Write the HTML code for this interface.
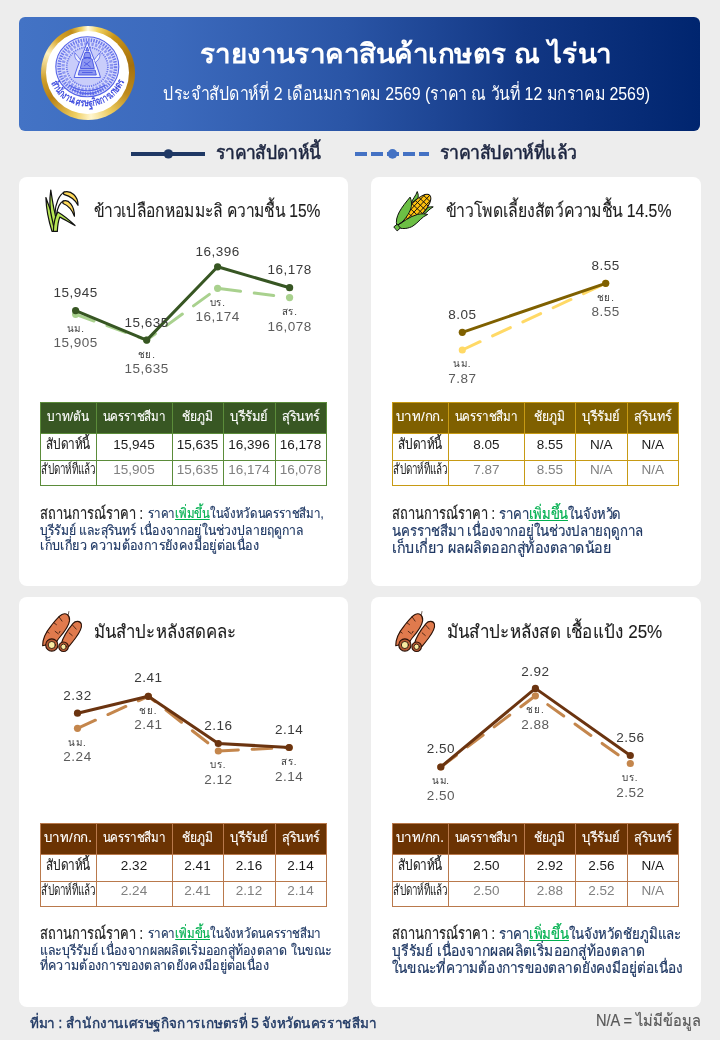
<!DOCTYPE html>
<html lang="th">
<head>
<meta charset="utf-8">
<title>รายงานราคาสินค้าเกษตร ณ ไร่นา</title>
<style>
html,body{margin:0;padding:0;}
body{width:720px;height:1040px;background:#ededed;font-family:"Liberation Sans",sans-serif;position:relative;overflow:hidden;}
#page{position:absolute;left:0;top:0;width:720px;height:1040px;will-change:transform;}
.t{position:absolute;white-space:nowrap;margin:0;padding:0;font-weight:normal;-webkit-text-stroke:.2px;clip-path:inset(-12px 0);}
.hdr{position:absolute;left:19px;top:17px;width:681px;height:114px;border-radius:6px;background:linear-gradient(90deg,#4373c5 0%,#3c6abd 22%,#2a55a6 48%,#123784 74%,#00256f 100%);}
.card{position:absolute;width:330px;height:409px;background:#fff;border-radius:8px;}
svg{position:absolute;left:0;top:0;overflow:visible;}
svg text{font-family:"Liberation Sans",sans-serif;}
svg text.v{font-size:13.5px;letter-spacing:.5px;text-anchor:middle;}
svg text.k{font-size:9.8px;letter-spacing:.8px;text-anchor:middle;fill:#3a3a3a;}
table{position:absolute;border-collapse:collapse;table-layout:fixed;font-size:13px;}
td,th{padding:0;text-align:center;vertical-align:baseline;white-space:nowrap;overflow:hidden;font-weight:normal;line-height:16px;}
th{color:#fff;height:24px;font-size:13.7px;padding-top:5.7px;}
tr.r1 td{height:24px;color:#1a1a1a;font-size:13.5px;padding-top:2.6px;}
tr.r2 td{height:24px;color:#808080;font-size:13.5px;padding-top:0;}
tr.r1 td.h,tr.r2 td.h{font-size:14.4px;color:#222;}
tr.r2 td.h span{-webkit-text-stroke:0;}
.lab{color:#222;font-size:16.3px;}
.t u{color:#00b050;}
td span,th span{display:inline-block;margin:0 -14px;-webkit-text-stroke:.15px;}
</style>
</head>
<body>
<div id="page">

<div class="hdr"></div>
<div style="position:absolute;left:40.5px;top:25.5px;width:94px;height:94px;border-radius:50%;background:conic-gradient(from 0deg,#fffbe6 0deg,#f3d565 12deg,#c99418 36deg,#a5700c 80deg,#bd8a1c 118deg,#eccb5e 150deg,#fff6cf 176deg,#f0cf62 196deg,#b98214 236deg,#cf9f2a 262deg,#fff3c2 296deg,#d7a62c 318deg,#c18c18 338deg,#f1d468 352deg,#fffbe6 360deg);"></div>
<div style="position:absolute;left:46px;top:31px;width:83px;height:83px;border-radius:50%;background:#fff;"></div>
<svg width="720" height="140" viewBox="0 0 720 140">
<g fill="none" stroke="#5563e8">
<ellipse cx="87.300" cy="66.800" rx="31.500" ry="30" fill="#d9dcfc" stroke-width="1.100"/>
<ellipse cx="87.300" cy="66.800" rx="28.200" ry="26.800" stroke="#6e7aec" stroke-width="3.600" stroke-dasharray="1.5 1.100"/>
<ellipse cx="87.300" cy="66.800" rx="24.200" ry="23" stroke="#8f98f1" stroke-width="3.200" stroke-dasharray="2.400 1.300"/>
<ellipse cx="87.300" cy="66.800" rx="20.600" ry="19.600" fill="#c9cdfa" stroke="#6e7aec" stroke-width="1.800" stroke-dasharray="1.200 1"/>
<path d="M87.300 41.500 C89.500 49 97.500 66 100.500 77.500 L74.100 77.500 C77.100 66 85.100 49 87.300 41.500 Z" fill="#eef0fe" stroke-width="1"/>
<path d="M79 62 c-3.500 -2 -5 -6 -4 -9 c2 2 4 5 5.500 7 M95.600 62 c3.500 -2 5 -6 4 -9 c-2 2 -4 5 -5.500 7" fill="#eef0fe" stroke-width=".8"/>
<path d="M87.300 47 l1.500 4 l-3 0 z M85 52.500 h4.600 l1.400 5 h-7.400 z M82.500 59 q4.800 -2.400 9.600 0 l2.200 9.500 h-14 z M79.500 70 h15.600 l1.200 5 h-18 z" fill="#8d97f1" stroke="#4452e2" stroke-width=".9"/>
<path d="M84 62 l6.600 5 M84 66 l6.600 -5 M82 72.500 h10.600" stroke="#4452e2" stroke-width=".8"/>
<path d="M69 85 q18.300 11.500 36.600 0" stroke-width="1.200"/>
<path d="M72 89.500 q15.300 8 30.600 0" stroke-width="1"/>
<path d="M80 93.800 h14.600" stroke-width="1"/>
</g>
<path id="arc" d="M50.900 82.500 A39.600 39.600 0 0 0 123.700 82.500" fill="none"/>
<text font-size="10.500" font-weight="bold" fill="#4350e0"><textPath href="#arc" textLength="94" lengthAdjust="spacingAndGlyphs">สำนักงานเศรษฐกิจการเกษตร</textPath></text>
</svg>

<h1 class="t" id="title" style="top:34.64px;font-size:27px;line-height:38px;color:#fff;font-weight:bold;width:401.5px;left:205.00px;text-align:center;transform:scaleX(1.030);-webkit-text-stroke:0;">รายงานราคาสินค้าเกษตร ณ ไร่นา</h1>
<p class="t" id="sub" style="top:80.66px;font-size:18.3px;line-height:26px;color:#fff;width:561.2px;left:125.95px;text-align:center;transform:scaleX(0.870);-webkit-text-stroke:0;">ประจำสัปดาห์ที่ 2 เดือนมกราคม 2569 (ราคา ณ วันที่ 12 มกราคม 2569)</p>
<svg width="720" height="180" viewBox="0 0 720 180">
<line x1="131" y1="153.900" x2="205" y2="153.900" stroke="#1f3864" stroke-width="4"/>
<circle cx="168.400" cy="153.900" r="4.700" fill="#1f3864"/>
<line x1="355" y1="153.900" x2="429" y2="153.900" stroke="#4472c4" stroke-width="4" stroke-dasharray="12 4"/>
<circle cx="392.500" cy="153.900" r="4.800" fill="#4472c4"/>
</svg>
<div class="t" id="lg1" style="top:139.56px;font-size:18.6px;line-height:26px;color:#1c2540;width:113.5px;left:215.5px;transform-origin:0 50%;transform:scaleX(0.940);-webkit-text-stroke:.55px;">ราคาสัปดาห์นี้</div>
<div class="t" id="lg2" style="top:139.56px;font-size:18.6px;line-height:26px;color:#1c2540;width:145.5px;left:440px;transform-origin:0 50%;transform:scaleX(0.948);-webkit-text-stroke:.55px;">ราคาสัปดาห์ที่แล้ว</div>
<div class="card" style="left:19px;top:177px;width:329px;height:409px;"></div>
<svg width="720" height="1040" viewBox="0 0 720 1040">
<g transform="translate(30,180) scale(0.1111)" stroke="#111" stroke-width="11" stroke-linejoin="round" stroke-linecap="round">
<path d="M224 305 C228 215 262 128 312 108" fill="none"/>
<path d="M236 325 C244 262 268 200 306 188" fill="none"/>
<path d="M300 110 C372 86 434 150 432 228 C408 178 360 146 304 130 Z" fill="#ffd95a"/>
<path d="M294 192 C348 166 400 232 400 326 C380 274 344 230 298 212 Z" fill="#ffd95a"/>
<path d="M143 158 C146 260 166 362 198 462 L236 462 C224 410 212 350 196 300 C178 250 158 205 143 158 Z" fill="#b7e654"/>
<path d="M187 90 C174 180 176 262 196 340 C204 374 214 420 222 462 L244 462 C240 400 232 330 222 290 C208 230 198 160 187 90 Z" fill="#b7e654"/>
<path d="M210 462 C212 400 226 330 250 288 C305 320 360 366 405 410 C350 382 302 348 268 334 C254 370 248 412 246 462 Z" fill="#b7e654"/>
</g>
<polyline points="75.6,314.3 146.7,340.1 217.6,288.3 289.6,297.6" fill="none" stroke="#a9d18e" stroke-width="3" stroke-dasharray="19.6 13.8" stroke-linecap="round" stroke-linejoin="round"/>
<circle cx="75.6" cy="314.3" r="3.600" fill="#a9d18e"/>
<circle cx="146.7" cy="340.1" r="3.600" fill="#a9d18e"/>
<circle cx="217.6" cy="288.3" r="3.600" fill="#a9d18e"/>
<circle cx="289.6" cy="297.6" r="3.600" fill="#a9d18e"/>
<polyline points="75.6,310.6 146.7,340.1 217.6,266.8 289.6,287.7" fill="none" stroke="#375623" stroke-width="3" stroke-linecap="round" stroke-linejoin="round"/>
<circle cx="75.6" cy="310.6" r="3.600" fill="#375623"/>
<circle cx="146.7" cy="340.1" r="3.600" fill="#375623"/>
<circle cx="217.6" cy="266.8" r="3.600" fill="#375623"/>
<circle cx="289.6" cy="287.7" r="3.600" fill="#375623"/>
<text x="75.6" y="297.0" class="v" fill="#3a3a3a">15,945</text>
<text x="75.6" y="331.7" class="k">นม.</text>
<text x="75.6" y="347.3" class="v" fill="#5c5c5c">15,905</text>
<text x="146.7" y="326.6" class="v" fill="#3a3a3a">15,635</text>
<text x="146.7" y="357.5" class="k">ชย.</text>
<text x="146.7" y="373.1" class="v" fill="#5c5c5c">15,635</text>
<text x="217.6" y="255.8" class="v" fill="#3a3a3a">16,396</text>
<text x="217.6" y="305.7" class="k">บร.</text>
<text x="217.6" y="321.3" class="v" fill="#5c5c5c">16,174</text>
<text x="289.6" y="273.9" class="v" fill="#3a3a3a">16,178</text>
<text x="289.6" y="315.0" class="k">สร.</text>
<text x="289.6" y="330.6" class="v" fill="#5c5c5c">16,078</text>
</svg>
<h2 class="t" id="ct0" style="top:198.46px;font-size:18.3px;line-height:26px;color:#1d1d1d;width:267.3px;left:94.4px;transform-origin:0 50%;transform:scaleX(0.852);-webkit-text-stroke:.12px;">ข้าวเปลือกหอมมะลิ ความชื้น 15%</h2>
<table style="left:39.5px;top:402px;width:286px;">
<colgroup><col style="width:56px"><col style="width:76px"><col style="width:51px"><col style="width:52px"><col style="width:51px"></colgroup>
<tr style="background:#385723"><th style="border:1px solid #5b8c3a"><span id="h0_0" style="transform:scaleX(0.874);">บาท/ตัน</span></th><th style="border:1px solid #5b8c3a"><span id="h1_0" style="transform:scaleX(0.850);">นครราชสีมา</span></th><th style="border:1px solid #5b8c3a"><span id="h2_0" style="transform:scaleX(0.880);">ชัยภูมิ</span></th><th style="border:1px solid #5b8c3a"><span id="h3_0" style="transform:scaleX(0.940);">บุรีรัมย์</span></th><th style="border:1px solid #5b8c3a"><span id="h4_0" style="transform:scaleX(0.927);">สุรินทร์</span></th></tr>
<tr class="r1"><td class="h" style="border:1px solid #5b8c3a"><span id="w1_0" style="transform:scaleX(0.819);">สัปดาห์นี้</span></td><td style="border:1px solid #5b8c3a">15,945</td><td style="border:1px solid #5b8c3a">15,635</td><td style="border:1px solid #5b8c3a">16,396</td><td style="border:1px solid #5b8c3a">16,178</td></tr>
<tr class="r2"><td class="h" style="border:1px solid #5b8c3a"><span id="w2_0" style="transform:scaleX(0.684);">สัปดาห์ที่แล้ว</span></td><td style="border:1px solid #5b8c3a">15,905</td><td style="border:1px solid #5b8c3a">15,635</td><td style="border:1px solid #5b8c3a">16,174</td><td style="border:1px solid #5b8c3a">16,078</td></tr>
</table>
<div class="t" id="lab0" style="top:503.65px;font-size:16.3px;line-height:18px;color:#222;width:131.6px;left:39.8px;transform-origin:0 50%;transform:scaleX(0.792);">สถานการณ์ราคา :</div>
<p class="t" id="p0_0" style="top:505.19px;font-size:13.6px;line-height:18px;color:#1f3864;width:209.3px;left:147.5px;transform-origin:0 50%;transform:scaleX(0.845);">ราคา<u>เพิ่มขึ้น</u>ในจังหวัดนครราชสีมา,</p>
<p class="t" id="p0_1" style="top:521.89px;font-size:13.6px;line-height:18px;color:#1f3864;width:296.1px;left:39.8px;transform-origin:0 50%;transform:scaleX(0.895);">บุรีรัมย์ และสุรินทร์ เนื่องจากอยู่ในช่วงปลายฤดูกาล</p>
<p class="t" id="p0_2" style="top:537.29px;font-size:13.6px;line-height:18px;color:#1f3864;width:239.3px;left:39.8px;transform-origin:0 50%;transform:scaleX(0.921);">เก็บเกี่ยว ความต้องการยังคงมีอยู่ต่อเนื่อง</p>
<div class="card" style="left:371px;top:177px;width:330px;height:409px;"></div>
<svg width="720" height="1040" viewBox="0 0 720 1040">
<g transform="translate(385,180) scale(0.1111)" stroke="#111" stroke-width="9" stroke-linejoin="round" stroke-linecap="round">
<path d="M236 204 C252 166 278 142 290 104 C302 132 302 152 294 170 Z" fill="#6cbf45"/>
<path d="M338 272 C372 246 400 238 434 242 C406 256 386 282 360 302 Z" fill="#6cbf45"/>
<g transform="rotate(-47 290 258)">
<ellipse cx="290" cy="258" rx="165" ry="66" fill="#ffc20e"/>
<clipPath id="cobclip"><ellipse cx="290" cy="258" rx="165" ry="66"/></clipPath>
<g clip-path="url(#cobclip)" stroke-width="8" fill="none">
<path d="M120 222 H460 M120 258 H460 M120 294 H460"/>
<path d="M164 180 V340 M206 180 V340 M248 180 V340 M290 180 V340 M332 180 V340 M374 180 V340 M416 180 V340"/>
</g>
</g>
<path d="M106 410 C84 330 150 246 226 154 C250 214 238 262 206 312 C182 350 152 390 106 410 Z" fill="#6cbf45"/>
<path d="M106 410 C160 380 222 328 292 310 C326 302 356 304 384 310 C332 330 302 382 252 414 C212 438 162 442 130 432 Z" fill="#6cbf45"/>
<path d="M106 410 L152 384 M106 410 L172 370" fill="none" stroke-width="5"/>
<path d="M82 420 L110 398 L138 432 L112 456 Z" fill="#6cbf45"/>
</g>
<polyline points="462.3,350 605.7,283.3" fill="none" stroke="#ffd966" stroke-width="3" stroke-dasharray="19.6 13.8" stroke-linecap="round" stroke-linejoin="round"/>
<circle cx="462.3" cy="350" r="3.600" fill="#ffd966"/>
<circle cx="605.7" cy="283.3" r="3.600" fill="#ffd966"/>
<polyline points="462.3,332.3 605.7,283.3" fill="none" stroke="#7f6000" stroke-width="3" stroke-linecap="round" stroke-linejoin="round"/>
<circle cx="462.3" cy="332.3" r="3.600" fill="#7f6000"/>
<circle cx="605.7" cy="283.3" r="3.600" fill="#7f6000"/>
<text x="462.3" y="319.0" class="v" fill="#3a3a3a">8.05</text>
<text x="462.3" y="367.4" class="k">นม.</text>
<text x="462.3" y="383.0" class="v" fill="#5c5c5c">7.87</text>
<text x="605.7" y="270.0" class="v" fill="#3a3a3a">8.55</text>
<text x="605.7" y="300.7" class="k">ชย.</text>
<text x="605.7" y="316.3" class="v" fill="#5c5c5c">8.55</text>
</svg>
<h2 class="t" id="ct1" style="top:198.46px;font-size:18.3px;line-height:26px;color:#1d1d1d;width:262.4px;left:446.2px;transform-origin:0 50%;transform:scaleX(0.864);-webkit-text-stroke:.12px;">ข้าวโพดเลี้ยงสัตว์ความชื้น 14.5%</h2>
<table style="left:391.8px;top:402px;width:286px;">
<colgroup><col style="width:56px"><col style="width:76px"><col style="width:51px"><col style="width:52px"><col style="width:51px"></colgroup>
<tr style="background:#7f6000"><th style="border:1px solid #c79a14"><span id="h0_1" style="transform:scaleX(0.972);">บาท/กก.</span></th><th style="border:1px solid #c79a14"><span id="h1_1" style="transform:scaleX(0.850);">นครราชสีมา</span></th><th style="border:1px solid #c79a14"><span id="h2_1" style="transform:scaleX(0.880);">ชัยภูมิ</span></th><th style="border:1px solid #c79a14"><span id="h3_1" style="transform:scaleX(0.940);">บุรีรัมย์</span></th><th style="border:1px solid #c79a14"><span id="h4_1" style="transform:scaleX(0.927);">สุรินทร์</span></th></tr>
<tr class="r1"><td class="h" style="border:1px solid #c79a14"><span id="w1_1" style="transform:scaleX(0.819);">สัปดาห์นี้</span></td><td style="border:1px solid #c79a14">8.05</td><td style="border:1px solid #c79a14">8.55</td><td style="border:1px solid #c79a14">N/A</td><td style="border:1px solid #c79a14">N/A</td></tr>
<tr class="r2"><td class="h" style="border:1px solid #c79a14"><span id="w2_1" style="transform:scaleX(0.684);">สัปดาห์ที่แล้ว</span></td><td style="border:1px solid #c79a14">7.87</td><td style="border:1px solid #c79a14">8.55</td><td style="border:1px solid #c79a14">N/A</td><td style="border:1px solid #c79a14">N/A</td></tr>
</table>
<div class="t" id="lab1" style="top:503.65px;font-size:16.3px;line-height:18px;color:#222;width:131.6px;left:392.4px;transform-origin:0 50%;transform:scaleX(0.792);">สถานการณ์ราคา :</div>
<p class="t" id="p1_0" style="top:504.70px;font-size:15px;line-height:18px;color:#1f3864;width:141.5px;left:498.59999999999997px;transform-origin:0 50%;transform:scaleX(0.873);">ราคา<u>เพิ่มขึ้น</u>ในจังหวัด</p>
<p class="t" id="p1_1" style="top:521.60px;font-size:15px;line-height:18px;color:#1f3864;width:284.7px;left:392.4px;transform-origin:0 50%;transform:scaleX(0.885);">นครราชสีมา เนื่องจากอยู่ในช่วงปลายฤดูกาล</p>
<p class="t" id="p1_2" style="top:538.50px;font-size:15px;line-height:18px;color:#1f3864;width:233.7px;left:392.4px;transform-origin:0 50%;transform:scaleX(0.945);">เก็บเกี่ยว ผลผลิตออกสู่ท้องตลาดน้อย</p>
<div class="card" style="left:19px;top:597px;width:329px;height:410px;"></div>
<svg width="720" height="1040" viewBox="0 0 720 1040">
<g transform="translate(30,600) scale(0.1111)" stroke="#2a1208" stroke-width="10" stroke-linejoin="round" stroke-linecap="round">
<path d="M350 104 L345 130" fill="none" stroke-width="6"/>
<path d="M282 392 C296 340 336 272 386 212 C410 184 452 186 462 216 C470 250 442 300 410 342 C388 372 366 398 348 420 Z" fill="#e07a4d"/>
<path d="M114 412 C112 350 140 292 190 232 C222 192 252 150 288 130 C326 112 360 138 356 186 C350 236 306 292 262 342 C250 356 242 368 238 380 Z" fill="#e07a4d"/>
<path d="M260 150 L288 190 M216 206 L238 222 M226 282 L254 304 M156 286 L172 298 M270 282 L262 296 M396 240 L416 262 M352 296 L380 320 M384 226 L392 236" fill="none" stroke-width="7"/>
<circle cx="196" cy="405" r="55" fill="#b85a34"/>
<circle cx="196" cy="405" r="32" fill="#f8eaa2" stroke-width="8"/>
<circle cx="302" cy="421" r="43" fill="#b85a34"/>
<circle cx="302" cy="421" r="24" fill="#f8eaa2" stroke-width="8"/>
</g>
<polyline points="77.5,728.3 148.3,696.3 218.3,751.0 289.2,747.5" fill="none" stroke="#c4864c" stroke-width="3" stroke-dasharray="19.6 13.8" stroke-linecap="round" stroke-linejoin="round"/>
<circle cx="77.5" cy="728.3" r="3.600" fill="#c4864c"/>
<circle cx="148.3" cy="696.3" r="3.600" fill="#c4864c"/>
<circle cx="218.3" cy="751.0" r="3.600" fill="#c4864c"/>
<circle cx="289.2" cy="747.5" r="3.600" fill="#c4864c"/>
<polyline points="77.5,713.2 148.3,696.3 218.3,743.5 289.2,747.5" fill="none" stroke="#6b3410" stroke-width="3" stroke-linecap="round" stroke-linejoin="round"/>
<circle cx="77.5" cy="713.2" r="3.600" fill="#6b3410"/>
<circle cx="148.3" cy="696.3" r="3.600" fill="#6b3410"/>
<circle cx="218.3" cy="743.5" r="3.600" fill="#6b3410"/>
<circle cx="289.2" cy="747.5" r="3.600" fill="#6b3410"/>
<text x="77.5" y="699.8" class="v" fill="#3a3a3a">2.32</text>
<text x="77.5" y="745.7" class="k">นม.</text>
<text x="77.5" y="761.3" class="v" fill="#5c5c5c">2.24</text>
<text x="148.3" y="681.7" class="v" fill="#3a3a3a">2.41</text>
<text x="148.3" y="713.7" class="k">ชย.</text>
<text x="148.3" y="729.3" class="v" fill="#5c5c5c">2.41</text>
<text x="218.3" y="729.9" class="v" fill="#3a3a3a">2.16</text>
<text x="218.3" y="768.4" class="k">บร.</text>
<text x="218.3" y="784.0" class="v" fill="#5c5c5c">2.12</text>
<text x="289.2" y="733.7" class="v" fill="#3a3a3a">2.14</text>
<text x="289.2" y="764.9" class="k">สร.</text>
<text x="289.2" y="780.5" class="v" fill="#5c5c5c">2.14</text>
</svg>
<h2 class="t" id="ct2" style="top:618.86px;font-size:18.3px;line-height:26px;color:#1d1d1d;width:156.5px;left:94.4px;transform-origin:0 50%;transform:scaleX(0.919);-webkit-text-stroke:.12px;">มันสำปะหลังสดคละ</h2>
<table style="left:39.5px;top:823px;width:286px;">
<colgroup><col style="width:56px"><col style="width:76px"><col style="width:51px"><col style="width:52px"><col style="width:51px"></colgroup>
<tr style="background:#6b3303"><th style="border:1px solid #b9794c"><span id="h0_2" style="transform:scaleX(0.972);">บาท/กก.</span></th><th style="border:1px solid #b9794c"><span id="h1_2" style="transform:scaleX(0.850);">นครราชสีมา</span></th><th style="border:1px solid #b9794c"><span id="h2_2" style="transform:scaleX(0.880);">ชัยภูมิ</span></th><th style="border:1px solid #b9794c"><span id="h3_2" style="transform:scaleX(0.940);">บุรีรัมย์</span></th><th style="border:1px solid #b9794c"><span id="h4_2" style="transform:scaleX(0.927);">สุรินทร์</span></th></tr>
<tr class="r1"><td class="h" style="border:1px solid #b9794c"><span id="w1_2" style="transform:scaleX(0.819);">สัปดาห์นี้</span></td><td style="border:1px solid #b9794c">2.32</td><td style="border:1px solid #b9794c">2.41</td><td style="border:1px solid #b9794c">2.16</td><td style="border:1px solid #b9794c">2.14</td></tr>
<tr class="r2"><td class="h" style="border:1px solid #b9794c"><span id="w2_2" style="transform:scaleX(0.684);">สัปดาห์ที่แล้ว</span></td><td style="border:1px solid #b9794c">2.24</td><td style="border:1px solid #b9794c">2.41</td><td style="border:1px solid #b9794c">2.12</td><td style="border:1px solid #b9794c">2.14</td></tr>
</table>
<div class="t" id="lab2" style="top:923.65px;font-size:16.3px;line-height:18px;color:#222;width:131.6px;left:39.8px;transform-origin:0 50%;transform:scaleX(0.792);">สถานการณ์ราคา :</div>
<p class="t" id="p2_0" style="top:925.19px;font-size:13.6px;line-height:18px;color:#1f3864;width:205.5px;left:147.5px;transform-origin:0 50%;transform:scaleX(0.849);">ราคา<u>เพิ่มขึ้น</u>ในจังหวัดนครราชสีมา</p>
<p class="t" id="p2_1" style="top:941.89px;font-size:13.6px;line-height:18px;color:#1f3864;width:323.1px;left:39.8px;transform-origin:0 50%;transform:scaleX(0.907);">และบุรีรัมย์ เนื่องจากผลผลิตเริ่มออกสู่ท้องตลาด ในขณะ</p>
<p class="t" id="p2_2" style="top:957.29px;font-size:13.6px;line-height:18px;color:#1f3864;width:251.5px;left:39.8px;transform-origin:0 50%;transform:scaleX(0.916);">ที่ความต้องการของตลาดยังคงมีอยู่ต่อเนื่อง</p>
<div class="card" style="left:371px;top:597px;width:330px;height:410px;"></div>
<svg width="720" height="1040" viewBox="0 0 720 1040">
<g transform="translate(383.1,600) scale(0.1111)" stroke="#2a1208" stroke-width="10" stroke-linejoin="round" stroke-linecap="round">
<path d="M350 104 L345 130" fill="none" stroke-width="6"/>
<path d="M282 392 C296 340 336 272 386 212 C410 184 452 186 462 216 C470 250 442 300 410 342 C388 372 366 398 348 420 Z" fill="#e07a4d"/>
<path d="M114 412 C112 350 140 292 190 232 C222 192 252 150 288 130 C326 112 360 138 356 186 C350 236 306 292 262 342 C250 356 242 368 238 380 Z" fill="#e07a4d"/>
<path d="M260 150 L288 190 M216 206 L238 222 M226 282 L254 304 M156 286 L172 298 M270 282 L262 296 M396 240 L416 262 M352 296 L380 320 M384 226 L392 236" fill="none" stroke-width="7"/>
<circle cx="196" cy="405" r="55" fill="#b85a34"/>
<circle cx="196" cy="405" r="32" fill="#f8eaa2" stroke-width="8"/>
<circle cx="302" cy="421" r="43" fill="#b85a34"/>
<circle cx="302" cy="421" r="24" fill="#f8eaa2" stroke-width="8"/>
</g>
<polyline points="440.8,767.0 535.4,695.8 630.3,763.5" fill="none" stroke="#c4864c" stroke-width="3" stroke-dasharray="19.6 13.8" stroke-linecap="round" stroke-linejoin="round"/>
<circle cx="440.8" cy="767.0" r="3.600" fill="#c4864c"/>
<circle cx="535.4" cy="695.8" r="3.600" fill="#c4864c"/>
<circle cx="630.3" cy="763.5" r="3.600" fill="#c4864c"/>
<polyline points="440.8,767.0 535.4,688.4 630.3,755.5" fill="none" stroke="#6b3410" stroke-width="3" stroke-linecap="round" stroke-linejoin="round"/>
<circle cx="440.8" cy="767.0" r="3.600" fill="#6b3410"/>
<circle cx="535.4" cy="688.4" r="3.600" fill="#6b3410"/>
<circle cx="630.3" cy="755.5" r="3.600" fill="#6b3410"/>
<text x="440.8" y="752.5" class="v" fill="#3a3a3a">2.50</text>
<text x="440.8" y="784.4" class="k">นม.</text>
<text x="440.8" y="800.0" class="v" fill="#5c5c5c">2.50</text>
<text x="535.4" y="676.4" class="v" fill="#3a3a3a">2.92</text>
<text x="535.4" y="713.2" class="k">ชย.</text>
<text x="535.4" y="728.8" class="v" fill="#5c5c5c">2.88</text>
<text x="630.3" y="741.9" class="v" fill="#3a3a3a">2.56</text>
<text x="630.3" y="780.9" class="k">บร.</text>
<text x="630.3" y="796.5" class="v" fill="#5c5c5c">2.52</text>
</svg>
<h2 class="t" id="ct3" style="top:618.86px;font-size:18.3px;line-height:26px;color:#1d1d1d;width:232.3px;left:447.3px;transform-origin:0 50%;transform:scaleX(0.933);-webkit-text-stroke:.12px;">มันสำปะหลังสด เชื้อแป้ง 25%</h2>
<table style="left:391.8px;top:823px;width:286px;">
<colgroup><col style="width:56px"><col style="width:76px"><col style="width:51px"><col style="width:52px"><col style="width:51px"></colgroup>
<tr style="background:#6b3303"><th style="border:1px solid #b9794c"><span id="h0_3" style="transform:scaleX(0.972);">บาท/กก.</span></th><th style="border:1px solid #b9794c"><span id="h1_3" style="transform:scaleX(0.850);">นครราชสีมา</span></th><th style="border:1px solid #b9794c"><span id="h2_3" style="transform:scaleX(0.880);">ชัยภูมิ</span></th><th style="border:1px solid #b9794c"><span id="h3_3" style="transform:scaleX(0.940);">บุรีรัมย์</span></th><th style="border:1px solid #b9794c"><span id="h4_3" style="transform:scaleX(0.927);">สุรินทร์</span></th></tr>
<tr class="r1"><td class="h" style="border:1px solid #b9794c"><span id="w1_3" style="transform:scaleX(0.819);">สัปดาห์นี้</span></td><td style="border:1px solid #b9794c">2.50</td><td style="border:1px solid #b9794c">2.92</td><td style="border:1px solid #b9794c">2.56</td><td style="border:1px solid #b9794c">N/A</td></tr>
<tr class="r2"><td class="h" style="border:1px solid #b9794c"><span id="w2_3" style="transform:scaleX(0.684);">สัปดาห์ที่แล้ว</span></td><td style="border:1px solid #b9794c">2.50</td><td style="border:1px solid #b9794c">2.88</td><td style="border:1px solid #b9794c">2.52</td><td style="border:1px solid #b9794c">N/A</td></tr>
</table>
<div class="t" id="lab3" style="top:923.65px;font-size:16.3px;line-height:18px;color:#222;width:131.6px;left:392.4px;transform-origin:0 50%;transform:scaleX(0.792);">สถานการณ์ราคา :</div>
<p class="t" id="p3_0" style="top:924.70px;font-size:15px;line-height:18px;color:#1f3864;width:207.5px;left:498.59999999999997px;transform-origin:0 50%;transform:scaleX(0.886);">ราคา<u>เพิ่มขึ้น</u>ในจังหวัดชัยภูมิและ</p>
<p class="t" id="p3_1" style="top:941.60px;font-size:15px;line-height:18px;color:#1f3864;width:275.7px;left:392.4px;transform-origin:0 50%;transform:scaleX(0.922);">บุรีรัมย์ เนื่องจากผลผลิตเริ่มออกสู่ท้องตลาด</p>
<p class="t" id="p3_2" style="top:958.50px;font-size:15px;line-height:18px;color:#1f3864;width:321.5px;left:392.4px;transform-origin:0 50%;transform:scaleX(0.908);">ในขณะที่ความต้องการของตลาดยังคงมีอยู่ต่อเนื่อง</p>
<p class="t" id="src" style="top:1013.08px;font-size:14.2px;line-height:20px;color:#1f3864;width:366.1px;left:30px;transform-origin:0 50%;transform:scaleX(0.950);-webkit-text-stroke:.4px;">ที่มา : สำนักงานเศรษฐกิจการเกษตรที่ 5 จังหวัดนครราชสีมา</p>
<p class="t" id="na" style="top:1009.76px;font-size:16px;line-height:22px;color:#595959;width:117.5px;right:18.9px;text-align:right;transform-origin:100% 50%;transform:scaleX(0.910);">N/A = ไม่มีข้อมูล</p>
</div>
</body>
</html>
